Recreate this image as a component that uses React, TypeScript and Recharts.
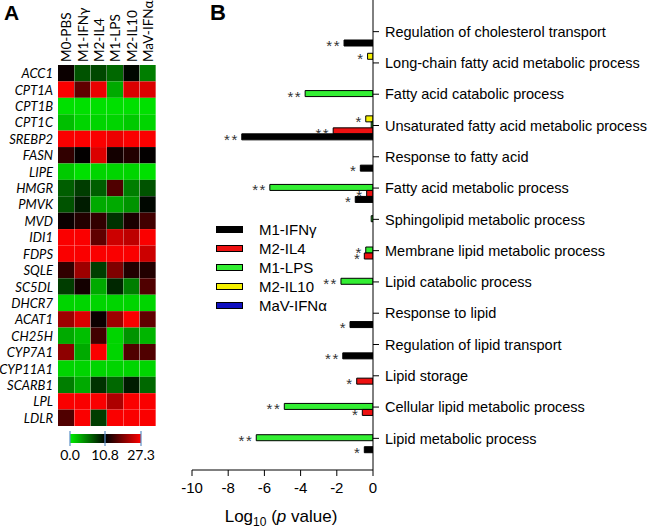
import React from 'react';
import { Bar, BarChart, Cell, LabelList, XAxis, YAxis } from 'recharts';

// ---- Panel A: heatmap ----
const genes = [
  'ACC1', 'CPT1A', 'CPT1B', 'CPT1C', 'SREBP2', 'FASN', 'LIPE', 'HMGR', 'PMVK', 'MVD',
  'IDI1', 'FDPS', 'SQLE', 'SC5DL', 'DHCR7', 'ACAT1', 'CH25H', 'CYP7A1', 'CYP11A1', 'SCARB1',
  'LPL', 'LDLR',
];
const conditions = ['M0-PBS', 'M1-IFNγ', 'M2-IL4', 'M1-LPS', 'M2-IL10', 'MaV-IFNα'];

const m0Pbs = [11.5, 27, 0.5, 2, 27, 14, 1.5, 6.5, 7, 11.5, 27, 27, 14, 8, 1, 21, 3, 20, 1, 5, 27, 16];
const m1Ifng = [7, 17, 0.5, 1, 27, 11, 0.5, 8, 9.5, 13, 27, 27, 21, 12, 1, 25, 2, 3, 1, 3, 27, 27];
const m2Il4 = [7.5, 26, 0.5, 1, 27, 25, 1, 6.5, 3, 14, 17, 27, 8, 3, 1, 11.5, 15, 27, 1, 8.5, 27, 8];
const m1Lps = [6, 3, 0.5, 1, 26, 12, 1, 16, 3, 8.5, 24, 27, 19, 9, 1, 21, 1, 1, 1, 6, 22, 27];
const m2Il10 = [10.5, 25, 0.5, 1.5, 27, 13, 1, 5, 4, 12.5, 23, 27, 13, 5, 1, 27, 4, 16, 1, 9.5, 27, 27];
const mavIfna = [5, 25, 0.5, 1, 27, 11, 0.5, 7, 10.5, 15, 27, 24, 13, 16, 1, 17, 2.5, 16, 1, 6, 27, 27];

const heatColumns = [m0Pbs, m1Ifng, m2Il4, m1Lps, m2Il10, mavIfna];
const scaleTicks = ['0.0', '10.8', '27.3'];
const SCALE_MID = 10.8;
const SCALE_MAX = 27.3;

function heatColor(v: number) {
  if (v <= SCALE_MID) {
    const g = Math.round(235 * (1 - v / SCALE_MID));
    return `rgb(0,${g},0)`;
  }
  const r = Math.round(255 * Math.min(1, (v - SCALE_MID) / (SCALE_MAX - SCALE_MID)));
  return `rgb(${r},0,0)`;
}

const heatData = conditions.map((cond, ci) => {
  const row: Record<string, number | string> = { cond };
  genes.forEach((g, gi) => {
    row[g] = heatColumns[ci][gi];
  });
  return row;
});

// ---- Panel B: GO enrichment bars ----
const categories = [
  'Regulation of cholesterol transport',
  'Long-chain fatty acid metabolic process',
  'Fatty acid catabolic process',
  'Unsaturated fatty acid metabolic process',
  'Response to fatty acid',
  'Fatty acid metabolic process',
  'Sphingolipid metabolic process',
  'Membrane lipid metabolic process',
  'Lipid catabolic process',
  'Response to lipid',
  'Regulation of lipid transport',
  'Lipid storage',
  'Cellular lipid metabolic process',
  'Lipid metabolic process',
];

const m1IfngVals = [-1.6, 0, 0, -7.25, -0.7, -0.98, 0, 0, 0, -1.27, -1.67, 0, 0, -0.48];
const m2Il4Vals = [0, 0, 0, -2.2, 0, -0.35, 0, -0.48, 0, 0, 0, -0.9, -0.59, 0];
const m1LpsVals = [0, 0, -3.75, -0.1, 0, -5.7, -0.1, -0.4, -1.77, 0, 0, 0, -4.9, -6.45];
const m2Il10Vals = [0, -0.3, 0, -0.4, 0, 0, 0, 0, 0, 0, 0, 0, 0, 0];
const mavIfnaVals = [0, 0, 0, 0, 0, 0, 0, 0, 0, 0, 0, 0, 0, 0];

const m1IfngStars = ['**', '', '', '**', '*', '*', '', '', '', '*', '**', '', '', '*'];
const m2Il4Stars = ['', '', '', '**', '', '*', '', '*', '', '', '', '*', '*', ''];
const m1LpsStars = ['', '', '**', '', '', '**', '', '*', '**', '', '', '', '**', '**'];
const m2Il10Stars = ['', '*', '', '*', '', '', '', '', '', '', '', '', '', ''];
const mavIfnaStars = ['', '', '', '', '', '', '', '', '', '', '', '', '', ''];

const xTicks = [-10, -8, -6, -4, -2, 0];

const series = [
  { key: 'm1Ifng', name: 'M1-IFNγ', color: '#000000', vals: m1IfngVals, stars: m1IfngStars },
  { key: 'm2Il4', name: 'M2-IL4', color: '#ee1111', vals: m2Il4Vals, stars: m2Il4Stars },
  { key: 'm1Lps', name: 'M1-LPS', color: '#33ee33', vals: m1LpsVals, stars: m1LpsStars },
  { key: 'm2Il10', name: 'M2-IL10', color: '#f5f000', vals: m2Il10Vals, stars: m2Il10Stars },
  { key: 'mavIfna', name: 'MaV-IFNα', color: '#1010c0', vals: mavIfnaVals, stars: mavIfnaStars },
];

const barData = categories.map((c, i) => {
  const row: Record<string, number | string> = { category: c };
  series.forEach((s) => {
    row[s.key] = s.vals[i];
    row[s.key + 'Star'] = s.stars[i];
  });
  return row;
});

const FONT = 'Arial, "Liberation Sans", sans-serif';
const CAL = 'Lato, "Open Sans", sans-serif';

function StarLabel(props: any) {
  const { x, y, width, height, value } = props;
  if (!value) return null;
  const left = Math.min(x, x + width);
  return (
    <text
      x={left - 3}
      y={y + height / 2 + 8}
      textAnchor='end'
      fontSize={15}
      fill='#333'
      fontFamily={FONT}
      letterSpacing={1.5}
    >
      {value}
    </text>
  );
}

function LegendBox() {
  return (
    <div style={{ fontFamily: FONT, fontSize: 15 }}>
      {series.map((s) => (
        <div key={s.key} style={{ display: 'flex', alignItems: 'center', height: 19 }}>
          <div
            style={{
              width: 25,
              height: 5,
              background: s.color,
              border: '1px solid #000',
              marginRight: 16,
            }}
          />
          <span>{s.name}</span>
        </div>
      ))}
    </div>
  );
}

export default function App() {
  return (
    <div style={{ position: 'absolute', left: 0, top: 0, width: 650, height: 531, background: '#fff' }}>
      <div style={{ position: 'absolute', left: 4, top: 1, fontFamily: FONT, fontWeight: 'bold', fontSize: 21 }}>A</div>
      <div style={{ position: 'absolute', left: 210, top: 0, fontFamily: FONT, fontWeight: 'bold', fontSize: 22 }}>B</div>

      <div style={{ position: 'absolute', left: 0, top: 0 }}>
        <BarChart
          width={170}
          height={470}
          data={heatData}
          margin={{ top: 0, right: 14, bottom: 44, left: 0 }}
          barCategoryGap={0}
          barGap={0}
        >
          <XAxis
            dataKey='cond'
            orientation='top'
            height={65}
            axisLine={false}
            tickLine={false}
            interval={0}
            tick={(p: any) => (
              <text
                x={p.x}
                y={62}
                transform={`rotate(-90 ${p.x} 62)`}
                textAnchor='start'
                dominantBaseline='central'
                fontSize={13.5}
                fontFamily={CAL}
              >
                {p.payload.value}
              </text>
            )}
          />
          <YAxis
            type='number'
            domain={[0, genes.length]}
            reversed
            width={58}
            axisLine={false}
            tickLine={false}
            interval={0}
            ticks={genes.map((_, i) => i + 0.5)}
            tick={(p: any) => (
              <text
                x={53}
                y={p.y}
                textAnchor='end'
                dominantBaseline='central'
                fontSize={13}
                fontStyle='italic'
                fontFamily={CAL}
              >
                {genes[Math.floor(p.payload.value)]}
              </text>
            )}
          />
          {genes.map((g) => (
            <Bar key={g} dataKey={() => 1} stackId='h' isAnimationActive={false}>
              {heatData.map((d, i) => (
                <Cell key={i} fill={heatColor(d[g] as number)} />
              ))}
            </Bar>
          ))}
        </BarChart>
      </div>

      <svg style={{ position: 'absolute', left: 0, top: 0 }} width={170} height={531}>
        <defs>
          <linearGradient id='scaleGrad' x1='0' x2='1' y1='0' y2='0'>
            <stop offset='0%' stopColor='#00ee00' />
            <stop offset='50%' stopColor='#000000' />
            <stop offset='100%' stopColor='#ff0000' />
          </linearGradient>
        </defs>
        <rect x={70} y={434} width={71} height={9} fill='url(#scaleGrad)' />
        {[70, 105, 141].map((x, i) => (
          <g key={i}>
            <line x1={x} x2={x} y1={431} y2={446} stroke='#5b8fc7' strokeWidth={1.2} />
            <text x={x} y={460} textAnchor='middle' fontSize={14} fontFamily={CAL}>
              {scaleTicks[i]}
            </text>
          </g>
        ))}
      </svg>

      <div style={{ position: 'absolute', left: 0, top: 0 }}>
        <BarChart
          width={650}
          height={531}
          layout='vertical'
          data={barData}
          margin={{ top: 0, right: 12, bottom: 21, left: 192 }}
          barCategoryGap={0}
          barGap={0}
        >
          <XAxis
            type='number'
            domain={[-10, 0]}
            ticks={xTicks}
            height={40}
            allowDataOverflow
            stroke='#000'
            tick={{ fill: '#000', fontSize: 15, fontFamily: FONT }}
            tickSize={6}
            tickMargin={6}
          />
          <YAxis
            type='category'
            dataKey='category'
            orientation='right'
            width={265}
            padding={{ top: 16, bottom: 16 }}
            stroke='#000'
            interval={0}
            tickSize={6}
            tickMargin={6}
            tick={{ fill: '#000', fontSize: 14.5, fontFamily: FONT, textAnchor: 'start' }}
          />
          {[...series].reverse().map((s) => (
            <Bar
              key={s.key}
              dataKey={s.key}
              name={s.name}
              fill={s.color}
              stroke='#000'
              strokeWidth={1}
              isAnimationActive={false}
            >
              <LabelList dataKey={s.key + 'Star'} content={StarLabel} />
            </Bar>
          ))}
        </BarChart>
      </div>

      <div style={{ position: 'absolute', left: 216, top: 220 }}>
        <LegendBox />
      </div>

      <div
        style={{
          position: 'absolute',
          left: 170,
          width: 222,
          top: 507,
          textAlign: 'center',
          fontFamily: FONT,
          fontSize: 17,
        }}
      >
        Log<sub style={{ fontSize: 12 }}>10</sub> (<i>p</i> value)
      </div>
    </div>
  );
}
